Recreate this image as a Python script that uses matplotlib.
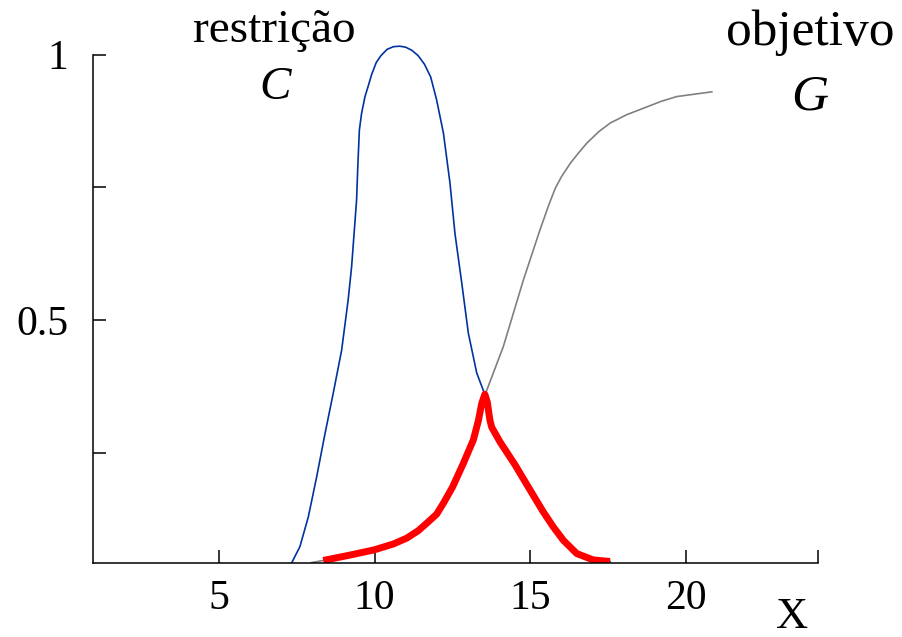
import matplotlib
matplotlib.use("Agg")
import matplotlib.pyplot as plt

# Restriction curve C (blue)
c_x = [7.34, 7.60, 7.87, 8.14, 8.41, 8.67, 8.94, 9.15, 9.26, 9.34, 9.42, 9.46, 9.51, 9.58,
       9.69, 9.80, 9.90, 10.05, 10.20, 10.40, 10.60, 10.81, 11.00, 11.20, 11.40, 11.60,
       11.80, 11.99, 12.21, 12.42, 12.58, 12.80, 13.01, 13.28, 13.545,
       13.62, 13.70, 13.76, 14.03, 14.50, 14.99, 15.40, 15.74, 16.06, 16.49, 17.02, 17.56]
c_y = [0.043, 0.073, 0.129, 0.205, 0.287, 0.362, 0.443, 0.538, 0.600, 0.663, 0.726, 0.790, 0.858, 0.889,
       0.921, 0.942, 0.962, 0.985, 0.998, 1.010, 1.015, 1.016, 1.014, 1.008, 0.998, 0.982,
       0.958, 0.915, 0.852, 0.758, 0.663, 0.569, 0.475, 0.400, 0.359,
       0.345, 0.312, 0.298, 0.270, 0.228, 0.180, 0.140, 0.110, 0.085, 0.060, 0.048, 0.045]

# Objective curve G (gray)
g_x = [7.98, 8.35, 9.20, 9.99, 10.60, 11.03, 11.40, 11.67, 11.99, 12.21, 12.50, 12.85,
       13.17, 13.33, 13.44, 13.545,
       14.133, 14.775, 15.311, 15.60, 15.80, 16.00, 16.28, 16.55, 16.81, 17.20, 17.56,
       18.10, 18.63, 19.20, 19.70, 20.83]
g_y = [0.043, 0.047, 0.057, 0.067, 0.078, 0.089, 0.103, 0.117, 0.134, 0.155, 0.185, 0.230,
       0.274, 0.310, 0.343, 0.359,
       0.450, 0.575, 0.670, 0.718, 0.748, 0.770, 0.795, 0.815, 0.833, 0.855, 0.871,
       0.887, 0.899, 0.912, 0.921, 0.930]

# Decision curve (red)
d_x = [8.35, 9.20, 9.99, 10.60, 11.03, 11.40, 11.67, 11.99, 12.21, 12.50, 12.85, 13.17,
       13.33, 13.44, 13.54,
       13.62, 13.70, 13.76, 14.03, 14.50, 14.99, 15.40, 15.74, 16.06, 16.49, 17.02, 17.56]
d_y = [0.047, 0.057, 0.067, 0.078, 0.089, 0.103, 0.117, 0.134, 0.155, 0.185, 0.230, 0.274,
       0.310, 0.343, 0.360,
       0.345, 0.312, 0.298, 0.270, 0.228, 0.180, 0.140, 0.110, 0.085, 0.060, 0.048, 0.045]

x_ticks = [5, 10, 15, 20]
y_ticks = [0.25, 0.5, 0.75, 1.0]
y_labels = ["", "0.5", "", "1"]

plt.rcParams["font.family"] = ["Liberation Serif", "DejaVu Serif"]

fig = plt.figure(figsize=(9.03, 6.37), dpi=100)
ax = fig.add_axes([0.1035, 0.1166, 0.8024, 0.8834])

xmin, xmax = 0.97, 24.24
ymin, ymax = 0.0427, 1.103

ax.plot(c_x, c_y, color="#0033a0", lw=1.2, solid_joinstyle="round")
ax.plot(g_x, g_y, color="#808080", lw=1.2, solid_joinstyle="round")
ax.plot(d_x, d_y, color="#ff0000", lw=5, solid_capstyle="butt", solid_joinstyle="round")

ax.set_xlim(xmin, xmax)
ax.set_ylim(ymin, ymax)

ax.set_xticks(x_ticks + [xmax])
ax.set_xticklabels([str(t) for t in x_ticks] + [""])
ax.set_yticks(y_ticks)
ax.set_yticklabels(y_labels)

ax.spines["top"].set_visible(False)
ax.spines["right"].set_visible(False)
ax.spines["left"].set_bounds(ymin, 1.0)
for s in ["left", "bottom"]:
    ax.spines[s].set_linewidth(1.1)

ax.tick_params(direction="in", length=9.5, width=1.1, labelsize=30)
ax.tick_params(axis="x", pad=12)
ax.tick_params(axis="y", pad=18)

ax.text(6.77, 1.046, "restrição", fontsize=34, ha="center", va="center", clip_on=False)
ax.text(6.80, 0.937, "C", fontsize=34, style="italic", ha="center", va="center", clip_on=False)
ax.text(23.98, 1.041, "objetivo", fontsize=37, ha="center", va="center", clip_on=False)
ax.text(23.98, 0.920, "G", fontsize=37, style="italic", ha="center", va="center", clip_on=False)

fig.text(0.877, 0.0, "X", fontsize=32, ha="center", va="bottom")

fig.savefig("out.png", dpi=100)
